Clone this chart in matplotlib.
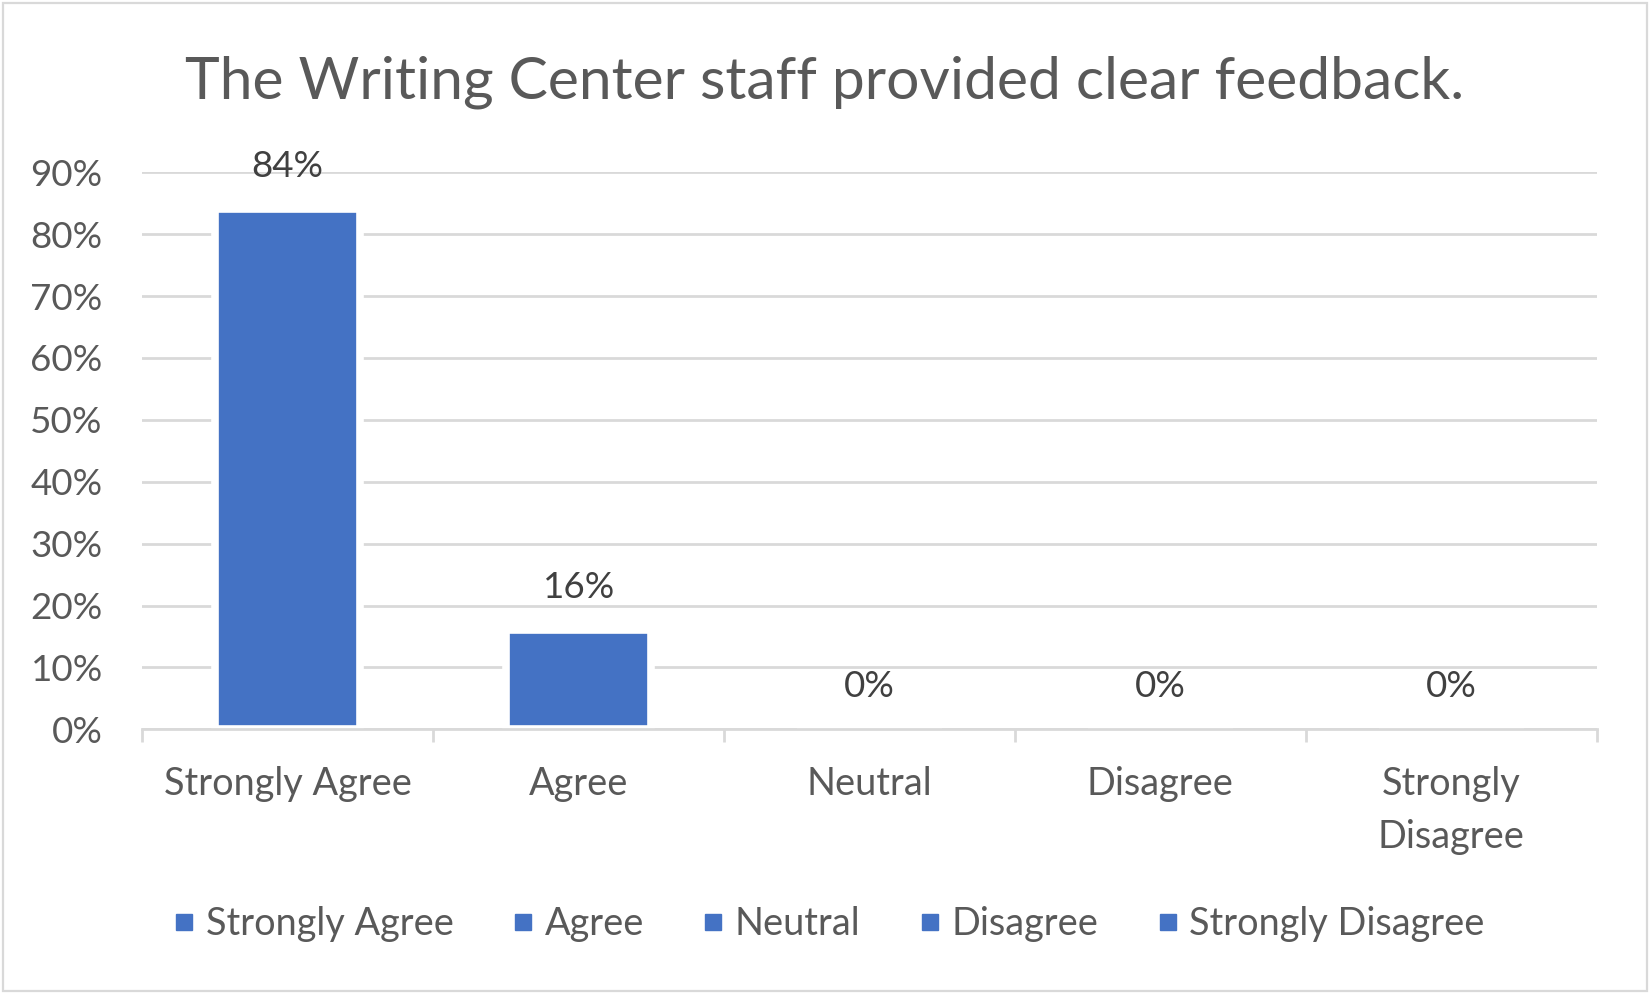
import matplotlib
matplotlib.use("Agg")
import matplotlib.pyplot as plt
from matplotlib.lines import Line2D
from matplotlib.patches import Rectangle

# ---- data ----
title = "The Writing Center staff provided clear feedback."
categories = ["Strongly Agree", "Agree", "Neutral", "Disagree", "Strongly Disagree"]
values = [0.84, 0.16, 0.0, 0.0, 0.0]
y_ticks = [0.0, 0.1, 0.2, 0.3, 0.4, 0.5, 0.6, 0.7, 0.8, 0.9]

BLUE = "#4472C4"
GRID = "#D9D9D9"
TXT = "#595959"
LBL = "#404040"

plt.rcParams["font.family"] = ["Lato", "DejaVu Sans"]

W, H, DPI = 1650, 994, 100
fig = plt.figure(figsize=(W / DPI, H / DPI), dpi=DPI)
fig.patch.set_facecolor("white")

# outer chart-area border
fig.patches.append(Rectangle((3 / W, 3 / H), (W - 6) / W, (H - 6) / H,
                             transform=fig.transFigure, fill=False,
                             edgecolor=GRID, linewidth=1.6))

ax_left, ax_right = 142.3 / W, 1596.7 / W
ax_bottom, ax_top = 1 - 729.3 / H, 1 - 172.3 / H
ax = fig.add_axes([ax_left, ax_bottom, ax_right - ax_left, ax_top - ax_bottom])

x = list(range(len(categories)))
ax.bar(x, values, width=0.5, color=BLUE, edgecolor="white", linewidth=5.5, zorder=1)

ax.set_xlim(-0.5, len(categories) - 0.5)
ax.set_ylim(0, max(y_ticks))

# grid
ax.set_axisbelow(True)
ax.set_yticks(y_ticks)
ax.set_yticklabels([f"{round(t * 100)}%" for t in y_ticks])
ax.yaxis.grid(True, color=GRID, linewidth=2.0)
ax.tick_params(axis="y", length=0, pad=28.5, labelsize=26.5, labelcolor=TXT)

# x axis: labels at centres, tick marks at category boundaries
def wrap(c):
    return "\n".join(c.split(" ", 1)) if len(c) > 15 else c

ax.set_xticks(x)
ax.set_xticklabels([wrap(c) for c in categories], linespacing=1.58)
ax.set_xticks([i - 0.5 for i in range(len(categories) + 1)], minor=True)
ax.tick_params(axis="x", which="major", length=0, pad=26.5, labelsize=27.3, labelcolor=TXT)
ax.tick_params(axis="x", which="minor", length=9.4, width=2.0, color=GRID)
for t in ax.get_xticklabels():
    t.set_verticalalignment("top")

for s in ["top", "right", "left"]:
    ax.spines[s].set_visible(False)
ax.spines["bottom"].set_color(GRID)
ax.spines["bottom"].set_linewidth(2.0)

# data labels
for xi, v in zip(x, values):
    ax.annotate(f"{round(v * 100)}%", (xi, v), xytext=(0, 23.5),
                textcoords="offset points", ha="center", va="baseline",
                fontsize=26.5, color=LBL, annotation_clip=False)

# title
fig.text(0.5, 1 - 98.3 / H, title, ha="center", va="baseline",
         fontsize=42.3, color=TXT)

# legend
handles = [Line2D([], [], linestyle="none", marker="s", markersize=11.3,
                  markerfacecolor=BLUE, markeredgecolor=BLUE) for _ in categories]
leg = fig.legend(handles, categories, loc="center", ncol=len(categories),
                 bbox_to_anchor=(0.503, 1 - 924 / H), frameon=False,
                 fontsize=27.3, handlelength=0.45, handletextpad=0.35,
                 columnspacing=1.6, borderaxespad=0, borderpad=0)
for t in leg.get_texts():
    t.set_color(TXT)

fig.savefig("out.png", dpi=DPI)
